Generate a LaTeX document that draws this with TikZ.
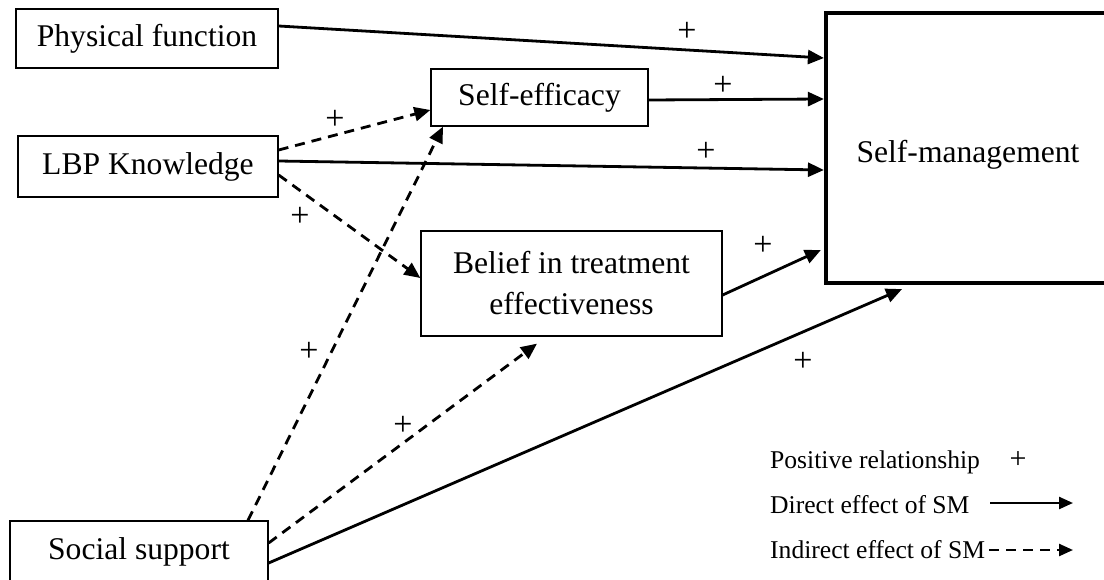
\documentclass[tikz,border=0pt]{standalone}
\usepackage{fontspec}
\setmainfont{Liberation Serif}
\usetikzlibrary{arrows.meta}
\begin{document}
\begin{tikzpicture}[x=1pt,y=-1pt,
  box/.style={draw,line width=1.3pt,inner sep=0pt,font=\fontsize{31.6}{41}\selectfont,align=center},
  smbox/.style={draw,line width=4.2pt,inner sep=0pt},
  txt/.style={font=\fontsize{31.6}{41}\selectfont,inner sep=0pt},
  direct/.style={line width=2.8pt,-{Triangle[length=16pt,width=14pt]}},
  indirect/.style={line width=2.8pt,dash pattern=on 10pt off 7pt,-{Triangle[length=16pt,width=14pt]}},
  plus/.style={font=\fontsize{34}{36}\selectfont,inner sep=0pt},
  legend/.style={font=\fontsize{25.6}{30}\selectfont,inner sep=0pt,anchor=base west}]
\useasboundingbox (0,0) rectangle (1104,580);
% boxes
\node[box,minimum width=262pt,minimum height=59pt] (pf) at (147,38.5) {Physical function};
\node[box,minimum width=260pt,minimum height=61pt] (lbp) at (148,166.5) {LBP Knowledge};
\node[box,minimum width=217pt,minimum height=57pt] (se) at (539.5,97.5) {Self-efficacy};
\node[box,minimum width=301pt,minimum height=105pt] (bt) at (571.5,283.5) {Belief in treatment\\effectiveness};
\node[box,minimum width=258pt,minimum height=62pt] (ss) at (139,552) {Social support};
\node[smbox,minimum width=284pt,minimum height=270pt] (sm) at (968,148) {};
\node[txt] (smt) at (968,155) {Self-management};
% direct effects
\draw[direct] ([yshift=12.5pt]pf.east) -- ([yshift=90pt]sm.west);
\draw[direct] ([yshift=-2.5pt]se.east) -- ([yshift=49pt]sm.west);
\draw[direct] ([yshift=5.5pt]lbp.east) -- ([yshift=-22pt]sm.west);
\draw[direct] ([yshift=-11.5pt]bt.east) -- ([xshift=-3pt,yshift=-102pt]sm.west);
\draw[direct] ([yshift=-11pt]ss.east) -- ([xshift=-66pt,yshift=-4pt]sm.south);
% indirect effects
\draw[indirect] ([yshift=16.5pt]lbp.east) -- ([yshift=-12.5pt]se.west);
\draw[indirect] ([yshift=-8.5pt]lbp.east) -- ([yshift=5.5pt]bt.west);
\draw[indirect] ([xshift=109pt]ss.north) -- ([xshift=-96.5pt]se.south);
\draw[indirect] ([yshift=9pt]ss.east) -- ([xshift=-34.5pt,yshift=-7pt]bt.south);
% plus labels
\node[plus] (p1) at (687,32) {+};
\node[plus] (p2) at (723,86) {+};
\node[plus] (p3) at (706,152) {+};
\node[plus] (p4) at (763,246) {+};
\node[plus] (p5) at (803,362) {+};
\node[plus] (p6) at (335,120) {+};
\node[plus] (p7) at (300,217) {+};
\node[plus] (p8) at (309,352) {+};
\node[plus] (p9) at (403,426) {+};
% legend
\node[legend] (l1) at (770,468) {Positive relationship};
\node[plus,font=\fontsize{30}{32}\selectfont] (lp) at (1018,460) {+};
\node[legend] (l2) at (770,513) {Direct effect of SM};
\node[legend] (l3) at (770,558) {Indirect effect of SM};
\coordinate (d1) at (990,503);
\coordinate (d2) at (1073,503);
\coordinate (i1) at (989,550);
\coordinate (i2) at (1073,550);
\draw[line width=2.4pt,-{Triangle[length=14pt,width=12pt]}] (d1) -- (d2);
\draw[line width=2.4pt,dash pattern=on 10pt off 7pt,-{Triangle[length=14pt,width=12pt]}] (i1) -- (i2);
\end{tikzpicture}
\end{document}
